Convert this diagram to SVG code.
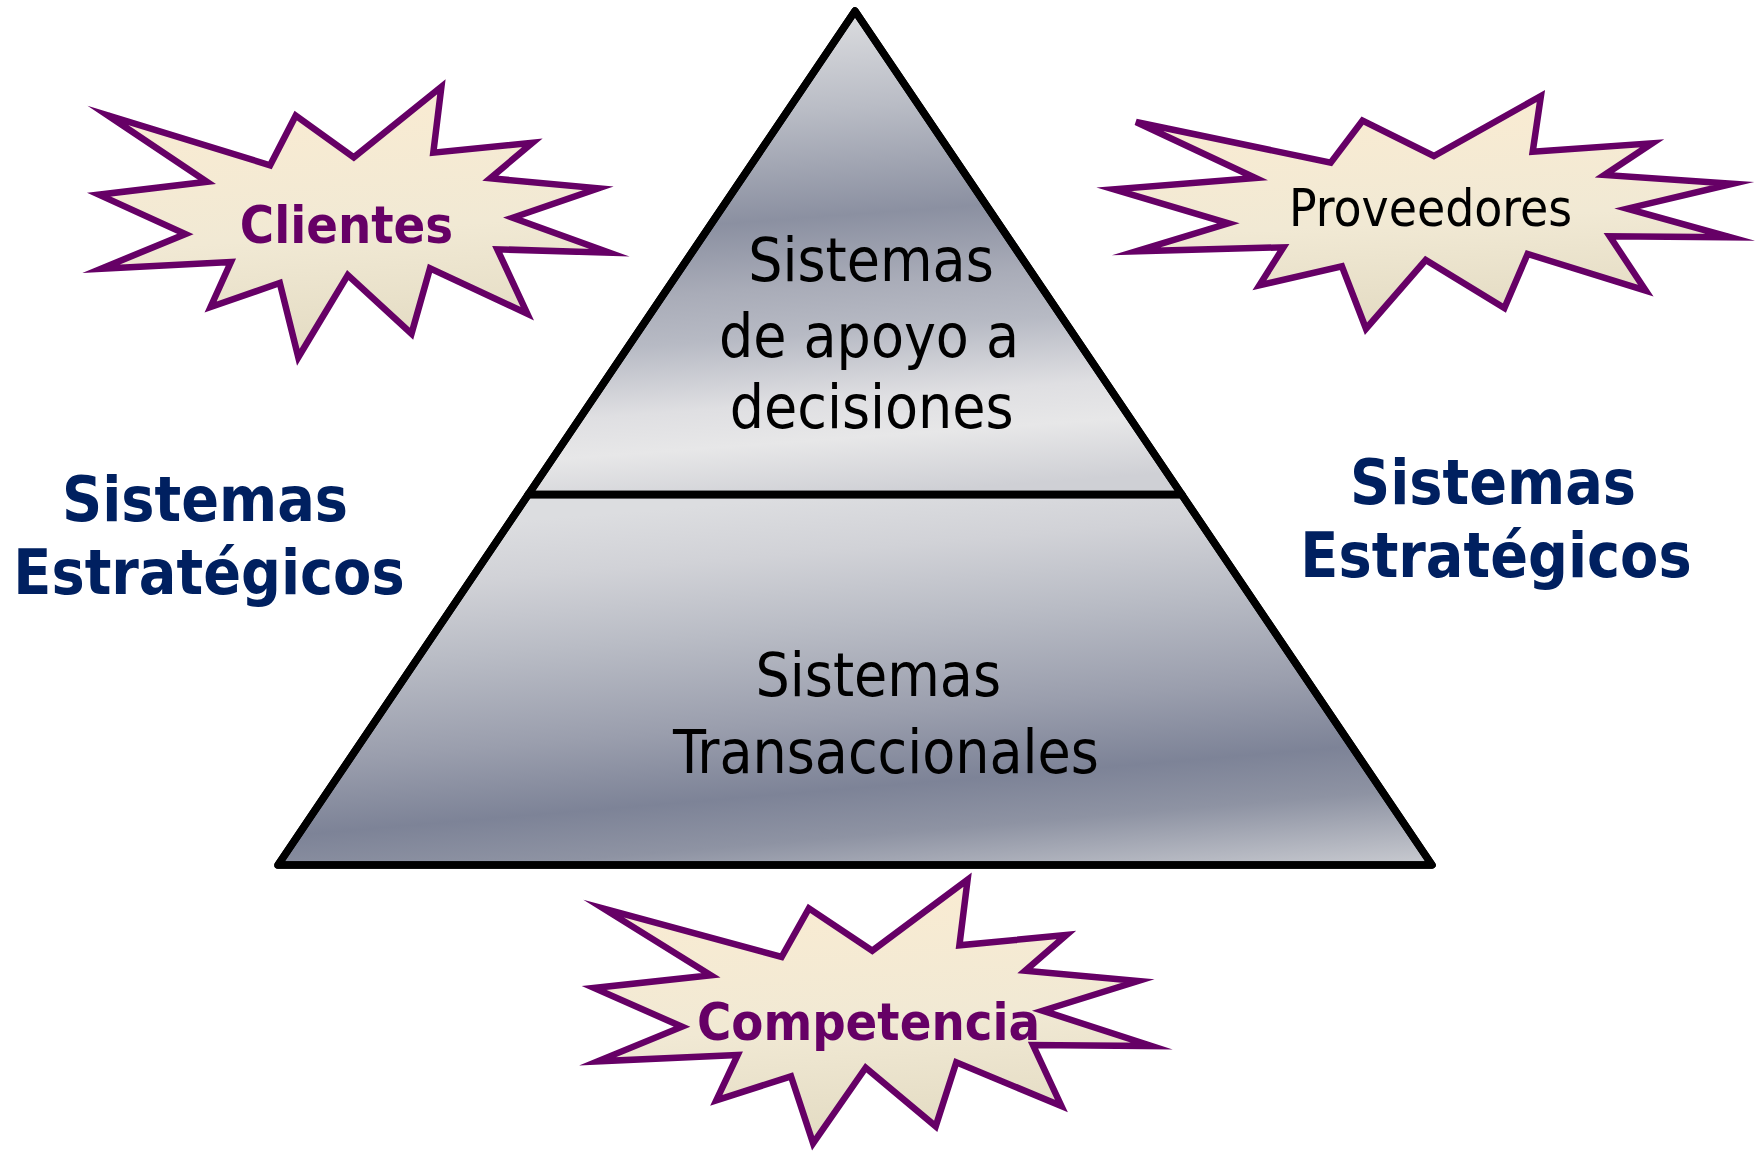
<svg xmlns="http://www.w3.org/2000/svg" width="1764" height="1151" viewBox="0 0 1764 1151">
<defs>
<linearGradient id="starFill" x1="0" y1="0" x2="0.15" y2="1">
<stop offset="0" stop-color="#fbecd2"/>
<stop offset="0.6" stop-color="#f1e9d4"/>
<stop offset="1" stop-color="#e4dcc4"/>
</linearGradient>
<linearGradient id="topFill" gradientUnits="userSpaceOnUse" x1="845" y1="11" x2="880" y2="494">
<stop offset="0" stop-color="#dcdde0"/>
<stop offset="0.2" stop-color="#b9bcc5"/>
<stop offset="0.42" stop-color="#8b90a1"/>
<stop offset="0.56" stop-color="#a9acb8"/>
<stop offset="0.66" stop-color="#b7bac4"/>
<stop offset="0.8" stop-color="#dfdfe2"/>
<stop offset="0.88" stop-color="#e7e7e8"/>
<stop offset="1" stop-color="#cfd0d5"/>
</linearGradient>
<linearGradient id="botFill" gradientUnits="userSpaceOnUse" x1="840" y1="494" x2="874.8" y2="910">
<stop offset="0" stop-color="#dcdde0"/>
<stop offset="0.134" stop-color="#d1d2d7"/>
<stop offset="0.312" stop-color="#b9bcc5"/>
<stop offset="0.535" stop-color="#9a9ead"/>
<stop offset="0.705" stop-color="#7d8397"/>
<stop offset="0.82" stop-color="#8e93a3"/>
<stop offset="1" stop-color="#c8cad0"/>
</linearGradient>
</defs>
<style>
.star{fill:url(#starFill);stroke:#660066;stroke-width:6.5;stroke-linejoin:miter;stroke-miterlimit:8}
.tri{stroke:#000;stroke-width:7.5;stroke-linejoin:round;stroke-linecap:round}
.bold{font-family:"DejaVu Sans Condensed","DejaVu Sans",sans-serif;font-stretch:condensed;font-weight:bold;text-anchor:middle}
.reg{font-family:"DejaVu Sans Condensed","DejaVu Sans",sans-serif;font-stretch:condensed;font-weight:normal;text-anchor:middle;fill:#000}
.purple{fill:#660066;font-size:52px}
.navy{fill:#002060;font-size:62px}
.tri-text{font-size:60px}
</style>

<g id="piramide">
<polygon class="tri" fill="url(#botFill)" points="528.3,494.5 1181.7,494.5 1432,865 278,865"/>
<polygon class="tri" fill="url(#topFill)" points="855,11 1181.7,494.5 528.3,494.5"/>
<line class="tri" x1="528.3" y1="494.5" x2="1181.7" y2="494.5"/>
<polygon class="tri" fill="none" points="855,11 1432,865 278,865"/>
</g>

<g id="sistemas-apoyo-decisiones">
<text class="reg tri-text" x="871" y="280.7">Sistemas</text>
<text class="reg tri-text" x="869" y="356.7">de apoyo a</text>
<text class="reg tri-text" x="871.7" y="428.3">decisiones</text>
</g>

<g id="sistemas-transaccionales">
<text class="reg tri-text" x="878.3" y="696">Sistemas</text>
<text class="reg tri-text" x="886" y="772.7">Transaccionales</text>
</g>

<g id="clientes">
<polygon class="star" points="107.7,115.3 270.1,165.3 295.7,115.7 353.8,157.3 441.4,86.7 433.3,152.7 532.5,142.7 490.3,178.3 598.3,188.3 512.8,217.7 609.4,252.7 497.3,249.3 527.3,313.7 430,268.3 411.5,333.7 347.8,275 298.3,357.3 279.8,283 210.6,307 230.9,262 101.1,268.7 185.4,234 98.9,194.7 206.9,181.7"/>
<text class="bold purple" x="346.5" y="242.7">Clientes</text>
</g>

<g id="proveedores">
<polygon class="star" points="1136,122 1330.7,162.7 1362.5,120.7 1433.9,156 1540.9,96 1532.7,151.7 1652.2,143.3 1604.5,175 1732.6,183.7 1627.3,208.7 1730.5,237.3 1609.7,236.3 1645.8,290.7 1527.6,254 1504.4,308 1425.7,260 1366,328.7 1341.9,266.3 1259.4,285.3 1283.4,247.3 1136,251.3 1228.4,223.3 1114,189.3 1255.5,178"/>
<text class="reg" x="1430.6" y="226" font-size="51">Proveedores</text>
</g>

<g id="competencia">
<polygon class="star" points="603.8,908.7 781.6,957 808.9,908.3 872.3,950.7 967.6,879.7 959.4,945.3 1066.4,935 1025.2,970.7 1138,981 1042.7,1010.7 1151.6,1046 1033,1045 1061.4,1106 956.3,1062.3 935.7,1126.3 865.7,1067.7 813.1,1143.3 791,1076.3 716.3,1100.3 737.7,1055 597.6,1061.3 682,1026.7 594.1,988 710.8,975.3"/>
<text class="bold purple" x="868.5" y="1040">Competencia</text>
</g>

<g id="estrategicos-izq">
<text class="bold navy" x="205" y="520.7">Sistemas</text>
<text class="bold navy" x="209" y="594">Estratégicos</text>
</g>

<g id="estrategicos-der">
<text class="bold navy" x="1493" y="504">Sistemas</text>
<text class="bold navy" x="1496" y="576.7">Estratégicos</text>
</g>

<g id="conectores"></g>
</svg>
